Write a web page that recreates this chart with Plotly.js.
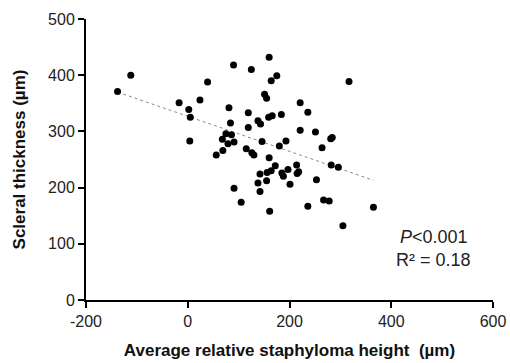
<!DOCTYPE html>
<html>
<head>
<meta charset="utf-8">
<script src="https://cdn.plot.ly/plotly-3.0.1.min.js"></script>
<style>html,body{margin:0;padding:0;background:#fff;}#chart{width:510px;height:363px;}</style>
</head>
<body>
<div id="chart"></div>
<script>
// Average relative staphyloma height (µm)
var heightX = [-138, -112, -17, 2, 5, 24, 39, 4, 56, 69, 81, 84, 90, 125, 160, 175, 164, 151, 155, 119,
  138, 143, 159, 166, 184, 119, 75, 86, 68, 91, 79, 146, 180, 193, 115, 126, 130, 160, 221, 236,
  221, 317, 251, 281, 284, 264, 172, 214, 142, 156, 164, 185, 188, 197, 218, 215, 138, 155, 142, 201,
  253, 282, 296, 105, 91, 161, 236, 267, 278, 365, 305];
// Scleral thickness (µm)
var thicknessY = [371, 400, 351, 339, 325, 356, 388, 283, 258, 266, 342, 315, 418, 410, 432, 399, 390, 366, 359, 333,
  319, 313, 325, 328, 330, 307, 296, 294, 286, 281, 278, 282, 274, 283, 269, 262, 258, 253, 351, 334,
  302, 389, 299, 287, 289, 271, 239, 240, 224, 227, 230, 226, 220, 232, 228, 225, 208, 212, 193, 206,
  214, 240, 236, 174, 199, 158, 167, 178, 176, 165, 132];
// Regression line end points
var fitX = [-138, 365];
var fitY = [370, 213];
var xTicks = [-200, 0, 200, 400, 600];
var yTicks = [0, 100, 200, 300, 400, 500];

var traces = [
  {x: fitX, y: fitY, mode: 'lines', type: 'scatter',
   line: {color: '#8a8a8a', width: 1, dash: 'dot'}, hoverinfo: 'skip'},
  {x: heightX, y: thicknessY, mode: 'markers', type: 'scatter',
   marker: {color: '#000', size: 7}}
];

var tickFont = {family: 'Liberation Sans, Arial, sans-serif', size: 16, color: '#222'};
var titleFont = {family: 'Liberation Sans, Arial, sans-serif', size: 17, color: '#111', weight: 'bold'};

var layout = {
  width: 510, height: 363,
  margin: {l: 86, r: 17, t: 19, b: 63, pad: 0},
  paper_bgcolor: '#fff', plot_bgcolor: '#fff',
  showlegend: false,
  xaxis: {
    range: [-200, 600], tickvals: xTicks, ticktext: xTicks.map(String),
    showgrid: false, zeroline: false, showline: true, linecolor: '#000', linewidth: 2,
    ticks: 'outside', ticklen: 6, tickwidth: 2, tickcolor: '#000',
    tickfont: tickFont, automargin: false,
    title: {text: '<b>Average relative staphyloma height  (µm)</b>', font: titleFont, standoff: 15}
  },
  yaxis: {
    range: [0, 500], tickvals: yTicks, ticktext: yTicks.map(String),
    showgrid: false, zeroline: false, showline: true, linecolor: '#000', linewidth: 2,
    ticks: 'outside', ticklen: 6, tickwidth: 2, tickcolor: '#000',
    tickfont: tickFont, automargin: false,
    title: {text: '<b>Scleral thickness (µm)</b>', font: titleFont, standoff: 18}
  },
  annotations: [
    {x: 484, y: 112, xref: 'x', yref: 'y', text: '<i>P</i>&lt;0.001', showarrow: false,
     font: {family: 'Liberation Sans, Arial, sans-serif', size: 18, color: '#222'}},
    {x: 484, y: 71, xref: 'x', yref: 'y', text: 'R² = 0.18', showarrow: false,
     font: {family: 'Liberation Sans, Arial, sans-serif', size: 18, color: '#222'}}
  ]
};

Plotly.newPlot('chart', traces, layout, {displayModeBar: false, staticPlot: true});
</script>
</body>
</html>
